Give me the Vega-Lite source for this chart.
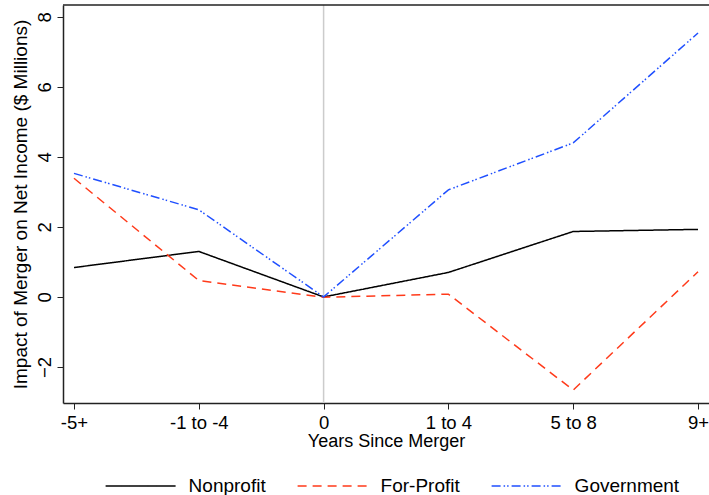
{
  "$schema": "https://vega.github.io/schema/vega-lite/v6.json",
  "width": 646,
  "height": 398,
  "autosize": "none",
  "padding": {"left": 63, "top": 5, "right": 0, "bottom": 92},
  "background": "white",
  "config": {
    "view": {"stroke": null},
    "font": "Liberation Sans",
    "axis": {"grid": false, "domainColor": "#222", "tickColor": "#222", "labelColor": "#000", "titleColor": "#000", "labelFont": "Liberation Sans", "titleFont": "Liberation Sans", "titleFontWeight": "normal"}
  },
  "datasets": {
    "lines": [
      {"period": "-5+", "group": "Nonprofit", "value": 0.84},
      {"period": "-1 to -4", "group": "Nonprofit", "value": 1.30},
      {"period": "0", "group": "Nonprofit", "value": 0.0},
      {"period": "1 to 4", "group": "Nonprofit", "value": 0.70},
      {"period": "5 to 8", "group": "Nonprofit", "value": 1.87},
      {"period": "9+", "group": "Nonprofit", "value": 1.93},
      {"period": "-5+", "group": "For-Profit", "value": 3.39},
      {"period": "-1 to -4", "group": "For-Profit", "value": 0.47},
      {"period": "0", "group": "For-Profit", "value": -0.01},
      {"period": "1 to 4", "group": "For-Profit", "value": 0.08},
      {"period": "5 to 8", "group": "For-Profit", "value": -2.66},
      {"period": "9+", "group": "For-Profit", "value": 0.72},
      {"period": "-5+", "group": "Government", "value": 3.53},
      {"period": "-1 to -4", "group": "Government", "value": 2.49},
      {"period": "0", "group": "Government", "value": 0.0},
      {"period": "1 to 4", "group": "Government", "value": 3.06},
      {"period": "5 to 8", "group": "Government", "value": 4.40},
      {"period": "9+", "group": "Government", "value": 7.54}
    ],
    "zero": [{"period": "0"}]
  },
  "layer": [
    {
      "data": {"name": "zero"},
      "mark": {"type": "rule", "color": "#cccccc", "strokeWidth": 1.5},
      "encoding": {
        "x": {"field": "period", "type": "ordinal", "sort": ["-5+", "-1 to -4", "0", "1 to 4", "5 to 8", "9+"]}
      }
    },
    {
      "data": {"name": "lines"},
      "mark": {"type": "line", "strokeWidth": 1.5},
      "encoding": {
        "x": {
          "field": "period", "type": "ordinal",
          "sort": ["-5+", "-1 to -4", "0", "1 to 4", "5 to 8", "9+"],
          "scale": {"type": "point", "padding": 0.088},
          "axis": {"title": "Years Since Merger", "labelAngle": 0, "labelAlign": "center", "labelBaseline": "top", "labelFlush": false, "labelBound": false, "labelFontSize": 18.5, "titleFontSize": 18, "tickSize": 6, "labelPadding": 4, "titlePadding": 1, "domainWidth": 1.5}
        },
        "y": {
          "field": "value", "type": "quantitative",
          "scale": {"domain": [-3.03, 8.34], "nice": false, "zero": false},
          "axis": {"title": "Impact of Merger on Net Income ($ Millions)", "values": [-2, 0, 2, 4, 6, 8], "labelAngle": -90, "labelAlign": "center", "labelBaseline": "bottom", "labelFlush": false, "labelFontSize": 18.5, "titleFontSize": 19, "tickSize": 6, "labelPadding": 3, "titlePadding": 5, "domainWidth": 1.5}
        },
        "color": {
          "field": "group", "type": "nominal",
          "sort": ["Nonprofit", "For-Profit", "Government"],
          "scale": {"domain": ["Nonprofit", "For-Profit", "Government"], "range": ["#000000", "#ff3a1a", "#1f4fff"]},
          "legend": {"title": null, "orient": "none", "direction": "horizontal", "legendX": 41.6, "legendY": 445, "symbolType": "M-1,0L1,0", "symbolSize": 4900, "symbolStrokeWidth": 1.5, "labelFontSize": 19, "labelOffset": 12, "columnPadding": 28, "labelFont": "Liberation Sans", "labelColor": "#000"}
        },
        "strokeDash": {
          "field": "group", "type": "nominal",
          "sort": ["Nonprofit", "For-Profit", "Government"],
          "scale": {"domain": ["Nonprofit", "For-Profit", "Government"], "range": [[1, 0], [9, 6], [9, 3, 1.5, 2, 1.5, 3]]},
          "legend": null
        }
      }
    },
    {
      "data": {"name": "zero"},
      "mark": {"type": "rule", "color": "#222", "strokeWidth": 1.5},
      "encoding": {"y": {"datum": 8.34, "type": "quantitative"}}
    }
  ]
}
